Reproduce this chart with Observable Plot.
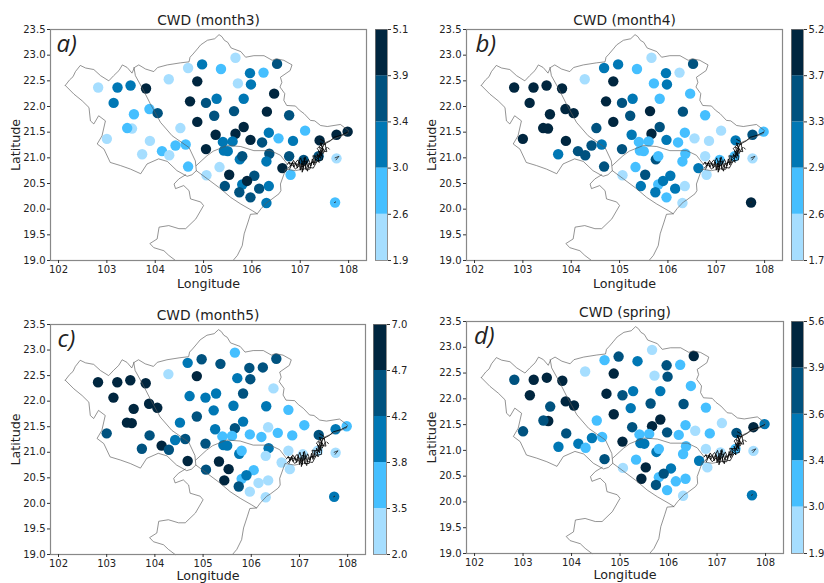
<!DOCTYPE html>
<html><head><meta charset="utf-8">
<script src="https://cdn.jsdelivr.net/npm/d3@7"></script>
<script src="https://cdn.jsdelivr.net/npm/@observablehq/plot@0.6"></script>
<style>
html,body{margin:0;padding:0;background:#fff}
#root{position:relative;width:824px;height:583px;overflow:hidden;font-family:"DejaVu Sans",sans-serif}
#root svg{position:absolute;background:transparent;font-family:"DejaVu Sans",sans-serif}
</style></head><body><div id="root"></div>
<script>
const lon = [102.82,103.22,103.49,103.81,103.14,103.56,103.88,104.05,103.52,103.42,103.0,103.89,103.73,104.14,104.29,104.42,104.63,104.52,104.28,104.68,104.97,105.36,105.66,105.96,106.24,106.52,105.71,105.98,104.87,104.72,105.05,105.27,105.83,106.46,105.63,106.31,106.77,105.22,104.87,105.83,105.25,105.66,105.97,105.40,105.60,106.21,106.35,106.55,106.85,107.10,107.40,107.75,107.98,107.75,107.38,107.07,106.77,106.36,106.30,106.63,106.80,105.05,105.42,105.50,105.75,105.80,104.68,105.33,105.06,105.53,106.05,105.80,105.90,106.15,106.35,105.44,105.74,105.97,106.30,107.72];
const lat = [22.37,22.37,22.41,22.35,22.07,21.85,21.95,21.87,21.57,21.58,21.37,21.33,21.07,21.13,21.05,21.24,21.26,21.58,22.53,22.75,22.82,22.73,22.95,22.65,22.66,22.83,22.45,22.43,22.49,22.10,22.07,22.15,22.15,22.25,21.91,21.90,21.83,21.82,21.70,21.60,21.45,21.47,21.35,21.31,21.32,21.30,21.49,21.38,21.33,21.53,21.34,21.45,21.51,20.99,21.03,20.96,21.03,21.08,20.93,20.80,20.67,21.17,21.14,21.13,20.97,21.03,20.83,20.82,20.66,20.67,20.65,20.48,20.55,20.40,20.45,20.45,20.33,20.23,20.12,20.13];
const bandMonth3 = [0,2,2,4,2,1,1,3,0,1,0,0,0,1,0,1,1,0,0,0,2,1,0,2,1,3,0,2,4,4,3,2,2,4,3,4,3,3,4,4,4,4,4,2,2,3,2,1,2,1,4,4,4,0,3,3,3,3,2,4,1,4,2,2,2,3,1,0,0,4,3,2,4,3,2,3,3,3,2,1];
const bandMonth4 = [4,4,4,4,4,4,4,4,4,4,4,4,2,3,3,3,2,3,0,2,2,1,0,2,0,3,1,2,4,4,3,2,1,1,4,3,1,3,4,3,2,4,2,1,1,1,1,0,0,0,2,3,1,0,1,1,0,1,1,2,0,3,1,1,3,1,3,1,0,3,2,1,2,2,0,2,2,1,0,4];
const bandMonth5 = [4,4,4,4,4,4,4,4,4,4,3,3,3,4,3,2,3,2,0,2,3,3,1,3,3,3,2,3,4,2,2,2,3,0,2,2,1,2,3,2,2,3,1,1,1,1,0,1,1,1,3,2,1,0,0,0,0,2,0,0,0,3,2,2,2,1,4,4,3,4,1,1,2,0,0,4,3,0,0,2];
const bandSpring = [3,4,4,4,4,3,4,4,4,3,3,3,2,2,1,2,1,1,0,1,3,2,0,3,1,4,0,3,4,4,3,2,2,1,3,3,1,2,4,4,3,4,3,1,1,1,1,0,1,0,3,4,2,0,1,0,0,1,1,2,0,4,2,2,2,1,3,1,0,4,2,1,3,1,1,4,3,1,0,2];
const ticksMonth3 = ["1.9","2.6","3.0","3.4","3.9","5.1"];
const ticksMonth4 = ["1.7","2.6","2.9","3.3","3.7","5.2"];
const ticksMonth5 = ["2.0","3.5","3.8","4.2","4.7","7.0"];
const ticksSpring = ["1.9","3.0","3.4","3.6","3.9","5.6"];
const palette = ["#a6deff","#45bfff","#0077b4","#00527f","#00263f"];

const borderNorth = [[102.14,22.41],[102.23,22.52],[102.30,22.58],[102.35,22.68],[102.45,22.80],[102.56,22.75],[102.73,22.72],[102.87,22.60],[103.04,22.50],[103.14,22.60],[103.25,22.70],[103.32,22.81],[103.42,22.76],[103.52,22.65],[103.57,22.76],[103.66,22.81],[103.80,22.73],[103.97,22.68],[104.05,22.76],[104.25,22.81],[104.52,22.85],[104.70,22.87],[104.72,22.96],[104.78,23.02],[104.87,23.12],[104.94,23.20],[105.08,23.29],[105.23,23.32],[105.32,23.40],[105.38,23.36],[105.43,23.29],[105.50,23.25],[105.57,23.14],[105.77,23.07],[105.87,22.96],[106.04,22.99],[106.25,22.99],[106.42,22.90],[106.50,22.93],[106.66,22.90],[106.83,22.81],[106.79,22.70],[106.59,22.57],[106.62,22.47],[106.58,22.38],[106.68,22.25],[106.66,22.12],[106.72,22.02],[106.90,22.01],[106.98,21.93],[107.08,21.86],[107.21,21.73],[107.30,21.72],[107.42,21.63],[107.56,21.61],[107.83,21.65],[108.0,21.53],[107.97,21.47],[107.70,21.37],[107.52,21.30],[107.42,21.14],[107.28,20.95],[107.11,20.79],[106.90,20.75],[106.70,20.78],[106.59,20.49],[106.60,20.36],[106.56,20.30],[106.39,20.18],[106.32,20.14],[106.19,20.01],[106.11,19.91],[105.97,19.90],[105.92,19.75],[105.84,19.52],[105.80,19.29],[105.70,19.10],[105.61,19.0]];
const borderWest = [[102.14,22.41],[102.32,22.24],[102.49,22.11],[102.63,21.98],[102.66,21.72],[102.73,21.66],[102.83,21.82],[102.97,21.72],[102.90,21.43],[102.80,21.27],[102.94,21.17],[103.07,20.91],[103.28,20.85],[103.49,20.78],[103.70,20.69],[103.83,20.88],[104.07,20.98],[104.25,20.93],[104.45,20.75],[104.66,20.64],[104.76,20.67],[104.85,20.75],[104.83,20.94],[104.70,21.20],[104.35,21.43],[104.11,21.69],[103.90,22.05],[103.76,22.31],[103.59,22.60],[103.56,22.76]];
const borderDelta = [[104.85,20.75],[105.08,20.59],[105.35,20.40],[105.56,20.23],[105.77,20.10],[106.01,19.97],[106.11,19.91]];
const borderBranch = [[104.85,20.85],[105.07,21.04],[105.20,21.13],[105.49,21.24],[105.77,21.22],[106.04,21.14],[106.39,21.14],[106.59,21.05],[106.73,20.88]];
const borderSouth = [[104.63,20.67],[104.49,20.59],[104.39,20.49],[104.42,20.40],[104.59,20.46],[104.70,20.36],[104.73,20.20],[104.94,20.14],[105.0,20.07],[104.84,19.81],[104.63,19.62],[104.49,19.62],[104.28,19.68],[104.08,19.65],[104.04,19.42],[103.89,19.33],[103.97,19.25],[104.18,19.19],[104.28,19.10],[104.42,19.0]];
const islands = [[106.73,20.87],[106.77,20.92],[106.80,20.84],[106.84,20.92],[106.87,20.82],[106.91,20.90],[106.94,20.80],[106.98,20.92],[107.0,20.76],[107.03,20.90],[107.04,20.72],[107.08,20.86],[107.08,21.0],[107.12,20.80],[107.15,20.74],[107.18,20.90],[107.22,20.84],[107.25,20.98],[107.28,20.86],[107.32,20.98],[107.39,20.91],[107.35,21.08],[107.42,20.99],[107.38,21.14],[107.45,21.03],[107.40,21.21],[107.49,21.15],[107.41,21.29],[107.52,21.26]];
const islandsB = [[106.75,20.80],[106.83,20.87],[106.90,20.78],[106.98,20.85],[107.06,20.76],[107.05,20.94],[107.13,20.92],[107.10,20.78],[107.20,20.78],[107.24,20.92],[107.33,20.91],[107.30,21.03],[107.37,20.98],[107.42,21.10],[107.35,21.18],[107.44,21.26],[107.47,21.08],[107.54,21.20]];
const islandsC = [[106.76,20.90],[106.88,20.88],[106.95,20.96],[107.03,20.82],[107.12,20.87],[107.17,20.97],[107.21,20.88],[107.29,20.93],[107.26,21.04],[107.41,21.03],[107.48,21.26],[107.62,21.33],[107.70,21.40],[107.85,21.44],[107.98,21.50]];
const islandsD = [[106.78,20.78],[106.86,20.95],[106.93,20.84],[107.01,21.0],[107.06,20.82],[107.10,21.02],[107.16,20.82],[107.27,20.80],[107.35,20.94],[107.46,20.96],[107.44,21.14],[107.55,21.12],[107.50,21.32],[107.42,21.36]];
const islets = [[107.72,21.0],[107.80,21.03],[107.74,20.96]];
const isletSouth = [[107.71,20.13],[107.73,20.14]];
const isletEast = [[107.57,21.20],[107.60,21.17]];

const frames = [
  {id:"a)",title:"CWD (month3)",band:bandMonth3,ticks:ticksMonth3,left:0,top:0,w:412,h:292,ml:50,mr:46,mt:29,mb:32,barLeft:375,barW:12,idx:6,ly:23},
  {id:"b)",title:"CWD (month4)",band:bandMonth4,ticks:ticksMonth4,left:412,top:0,w:412,h:292,ml:54,mr:42,mt:29,mb:32,barLeft:791,barW:12,idx:9,ly:23},
  {id:"c)",title:"CWD (month5)",band:bandMonth5,ticks:ticksMonth5,left:0,top:292,w:412,h:291,ml:50,mr:47,mt:32,mb:29,barLeft:373,barW:13,idx:7,ly:21},
  {id:"d)",title:"CWD (spring)",band:bandSpring,ticks:ticksSpring,left:412,top:292,w:412,h:291,ml:54,mr:41,mt:29,mb:30,barLeft:791,barW:12,idx:7.5,ly:21}
];
const root = document.getElementById("root");
const put = (svg,l,t)=>{svg.style.left=l+"px";svg.style.top=t+"px";root.appendChild(svg);};
const gridX = d3.range(102,109);
const gridY = d3.range(19,23.51,0.5);
const border = (p,o={})=>Plot.line(p,{x:d=>d[0],y:d=>d[1],stroke:"#5a5a5a",strokeWidth:0.65,...o});

for(const f of frames){
  const stations = lon.map((x,i)=>({x,y:lat[i],b:f.band[i]}));
  const map = Plot.plot({
    width:f.w,height:f.h,marginLeft:f.ml,marginRight:f.mr,marginTop:f.mt,marginBottom:f.mb,
    style:{background:"transparent",overflow:"visible"},
    x:{domain:[101.834,108.37]},
    y:{domain:[19,23.5]},
    color:{type:"ordinal",domain:[0,1,2,3,4],range:palette},
    marks:[
      Plot.dot(stations,{x:"x",y:"y",r:5.2,fill:"b",stroke:"none"}),
      border(borderNorth),border(borderWest),border(borderDelta),border(borderBranch),border(borderSouth),
      border(islands,{stroke:"#000",strokeWidth:0.85}),
      border(islandsB,{stroke:"#000",strokeWidth:0.8}),
      border(islandsC,{stroke:"#000",strokeWidth:0.8}),
      border(islandsD,{stroke:"#000",strokeWidth:0.8}),
      border(islets,{stroke:"#222",strokeWidth:0.8}),
      border(isletSouth,{stroke:"#222",strokeWidth:1}),
      border(isletEast,{stroke:"#222",strokeWidth:1}),
      Plot.frame({stroke:"#888",strokeWidth:1.2}),
      Plot.axisX(gridX,{label:null,tickSize:3,tickPadding:2,fontSize:10,tickFormat:d=>d,stroke:"#333",fill:"#222"}),
      Plot.axisY(gridY,{label:null,tickSize:3,tickPadding:2,fontSize:10,tickFormat:d=>d.toFixed(1),stroke:"#333",fill:"#222"}),
      Plot.text([f.title],{frameAnchor:"top",lineAnchor:"middle",dy:-9,fontSize:13.8,fill:"#222"}),
      Plot.text(["Longitude"],{frameAnchor:"bottom",lineAnchor:"middle",dy:f.ly,fontSize:12.7,fill:"#222"}),
      Plot.text(["Latitude"],{frameAnchor:"left",textAnchor:"middle",lineAnchor:"middle",rotate:-90,dx:-35,fontSize:12.7,fill:"#222"}),
      Plot.text([f.id],{frameAnchor:"top-left",dx:f.idx,dy:5,fontSize:24,fontStyle:"italic",fontFamily:"Open Sans",fill:"#222",textAnchor:"start"})
    ]
  });
  put(map,f.left,f.top);

  const bands = palette.map((c,i)=>({lo:i,hi:i+1,b:i}));
  const bar = Plot.plot({
    width:f.barW+34,height:f.h,marginLeft:0,marginRight:34,marginTop:f.mt,marginBottom:f.mb,
    style:{background:"transparent",overflow:"visible"},
    x:{domain:[0,1],axis:null},
    y:{domain:[0,5]},
    color:{type:"ordinal",domain:[0,1,2,3,4],range:palette},
    marks:[
      Plot.rectY(bands,{x1:0,x2:1,y1:"lo",y2:"hi",fill:"b"}),
      Plot.frame({stroke:"#777",strokeWidth:0.8}),
      Plot.axisY(d3.range(0,6),{anchor:"right",label:null,tickSize:3,tickPadding:2,fontSize:10,tickFormat:i=>f.ticks[i],stroke:"#333",fill:"#222"})
    ]
  });
  put(bar,f.barLeft,f.top);
}
</script></body></html>
